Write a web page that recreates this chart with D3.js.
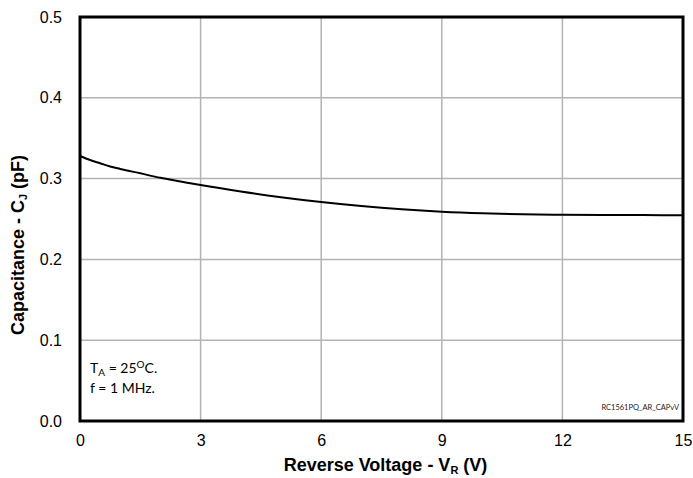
<!DOCTYPE html>
<html><head><meta charset="utf-8">
<script src="https://cdn.jsdelivr.net/npm/d3@7"></script>
<style>body{margin:0;background:#fff}
.ar{font-family:"Liberation Sans",Arial,sans-serif}
.cal{font-family:Lato,"Open Sans",sans-serif}
</style>
</head><body>
<svg id="c" width="693" height="478"></svg>
<script>
const voltage = [0, 0.25, 0.5, 0.75, 1, 1.5, 2, 2.5, 3, 4, 5, 6, 7, 8, 9, 10, 11, 12, 13, 14, 15];
const capacitance = [0.328, 0.323, 0.319, 0.315, 0.312, 0.3065, 0.301, 0.2965, 0.292, 0.284, 0.277, 0.271, 0.266, 0.262, 0.259, 0.257, 0.2558, 0.2553, 0.255, 0.2548, 0.2546];
const xTicks = [0, 3, 6, 9, 12, 15];
const yTicks = [0.0, 0.1, 0.2, 0.3, 0.4, 0.5];

const svg = d3.select("#c");
const L = 80, R = 683, T = 17, B = 421;
const x = d3.scaleLinear().domain([0, 15]).range([L, R]);
const y = d3.scaleLinear().domain([0, 0.5]).range([B, T]);

// grid
svg.append("g").selectAll("line").data(xTicks.slice(1, -1)).join("line")
  .attr("x1", d => x(d)).attr("x2", d => x(d)).attr("y1", T).attr("y2", B)
  .attr("stroke", "#b3b3b3").attr("stroke-width", 1.5);
svg.append("g").selectAll("line").data(yTicks.slice(1, -1)).join("line")
  .attr("y1", d => y(d)).attr("y2", d => y(d)).attr("x1", L).attr("x2", R)
  .attr("stroke", "#b3b3b3").attr("stroke-width", 1.5);

// axes (labels only)
const xAxis = svg.append("g").attr("transform", `translate(0,${B})`)
  .call(d3.axisBottom(x).tickValues(xTicks).tickSize(0).tickPadding(14).tickFormat(d3.format("d")));
const yAxis = svg.append("g").attr("transform", `translate(${L},0)`)
  .call(d3.axisLeft(y).tickValues(yTicks).tickSize(0).tickPadding(18).tickFormat(d3.format(".1f")));
[xAxis, yAxis].forEach(g => {
  g.attr("font-family", null).attr("font-size", null).attr("class", "ar");
  g.select(".domain").remove();
  g.selectAll("text").attr("class", "ar").style("font-size", "16px").attr("fill", "#000");
});

// curve
const line = d3.line().x((d, i) => x(voltage[i])).y(d => y(d)).curve(d3.curveMonotoneX);
svg.append("path").datum(capacitance).attr("d", line)
  .attr("fill", "none").attr("stroke", "#000").attr("stroke-width", 2);

// frame
svg.append("rect").attr("x", L).attr("y", T).attr("width", R - L).attr("height", B - T)
  .attr("fill", "none").attr("stroke", "#000").attr("stroke-width", 3);

// axis titles
const xt = svg.append("text").attr("class", "ar").attr("x", (L + R) / 2 + 4).attr("y", 471).attr("text-anchor", "middle")
  .style("font-size", "18px").attr("font-weight", "bold");
xt.append("tspan").text("Reverse Voltage - V");
xt.append("tspan").text("R").style("font-size", "11px").attr("dy", 3);
xt.append("tspan").text(" (V)").attr("dy", -3);

const yt = svg.append("text").attr("class", "ar").attr("transform", `translate(24,245) rotate(-90)`).attr("text-anchor", "middle")
  .style("font-size", "18px").attr("font-weight", "bold");
yt.append("tspan").text("Capacitance - C");
yt.append("tspan").text("J").style("font-size", "11px").attr("dy", 3);
yt.append("tspan").text(" (pF)").attr("dy", -3);

// annotation
const a1 = svg.append("text").attr("class", "cal").attr("x", 90).attr("y", 373).style("font-size", "14px");
a1.append("tspan").text("T");
a1.append("tspan").text("A").style("font-size", "10px").attr("dy", 3);
a1.append("tspan").text(" = 25").attr("dy", -3);
a1.append("tspan").text("O").style("font-size", "10px").attr("dy", -5);
a1.append("tspan").text("C.").attr("dy", 5);
svg.append("text").attr("class", "cal").attr("x", 90).attr("y", 393).style("font-size", "14px").text("f = 1 MHz.");

svg.append("text").attr("class", "cal").attr("x", 679).attr("y", 410).attr("text-anchor", "end")
  .style("font-size", "7.5px").attr("fill", "#222").text("RC1561PQ_AR_CAPvV");
</script>
</body></html>
